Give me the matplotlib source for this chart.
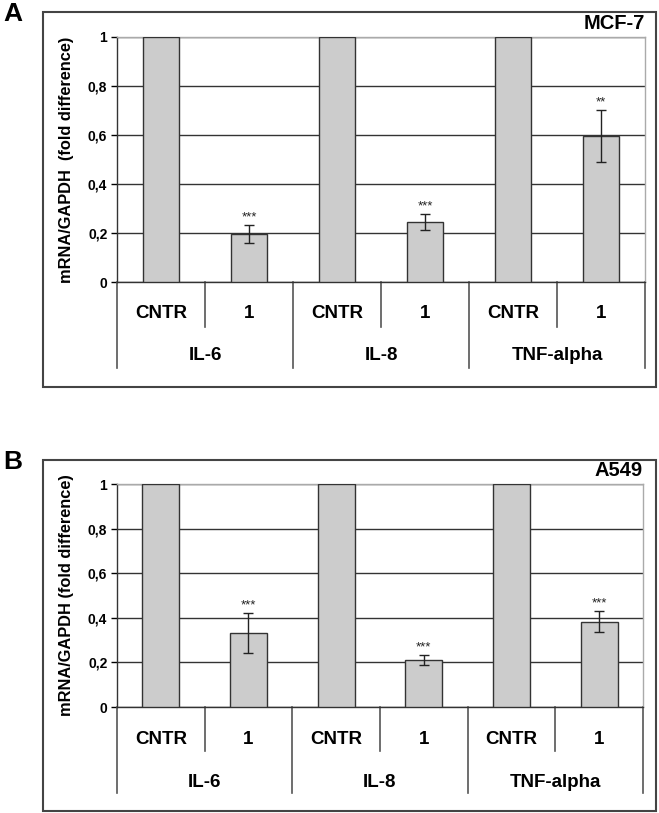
import matplotlib
matplotlib.use('Agg')
import matplotlib.pyplot as plt
import matplotlib.transforms as mtransforms
from matplotlib.patches import Rectangle

plt.rcParams['font.family'] = ['Liberation Sans', 'DejaVu Sans']
plt.rcParams['font.weight'] = 'bold'

W, H = 659, 813

# Data
groups = ['IL-6', 'IL-8', 'TNF-alpha']
conditions = ['CNTR', '1']
yticks = [0, 0.2, 0.4, 0.6, 0.8, 1]
ytick_labels = ['0', '0,2', '0,4', '0,6', '0,8', '1']

mcf7_cntr = [1.0, 1.0, 1.0]
mcf7_treat = [0.195, 0.245, 0.597]
mcf7_err = [0.037, 0.034, 0.107]
mcf7_stars = ['***', '***', '**']

a549_cntr = [1.0, 1.0, 1.0]
a549_treat = [0.333, 0.21, 0.383]
a549_err = [0.09, 0.022, 0.048]
a549_stars = ['***', '***', '***']

bar_fill = '#cccccc'
bar_edge = '#333333'


def px_rect(left, top, right, bottom):
    # pixel box -> figure fraction [l, b, w, h]
    return [left / W, 1 - bottom / H, (right - left) / W, (bottom - top) / H]


def draw_panel(fig, ax_box, frame_box, cntr, treat, err, stars,
               cell_label, ylabel, letter, sub_y, grp_y, short_end, long_end):
    l, t, r, b = frame_box
    fig.patches.append(Rectangle((l / W, 1 - b / H), (r - l) / W, (b - t) / H,
                                 transform=fig.transFigure, fill=False,
                                 edgecolor='#444444', lw=1.5))
    fig.text(3 / W, 1 - (t - 10) / H, letter, fontsize=19, fontweight='bold',
             va='top', ha='left')

    ax = fig.add_axes(px_rect(*ax_box))
    al, at, ar, ab = ax_box
    ah = ab - at

    xs, vals = [], []
    for i in range(len(groups)):
        xs += [2 * i, 2 * i + 1]
        vals += [cntr[i], treat[i]]
    ax.bar(xs, vals, width=0.42, color=bar_fill, edgecolor=bar_edge,
           linewidth=1.0, zorder=3)
    for i in range(len(groups)):
        x = 2 * i + 1
        ax.errorbar(x, treat[i], yerr=err[i], fmt='none', ecolor='#222222',
                    elinewidth=1.0, capsize=3.3, capthick=1.0, zorder=4)
        ax.annotate(stars[i], (x, treat[i] + err[i]), xytext=(0, 1),
                    textcoords='offset points', ha='center', va='bottom',
                    fontsize=9.5, fontweight='normal', color='#222222')

    ax.set_xlim(-0.5, 5.5)
    ax.set_ylim(0, 1)
    ax.set_yticks(yticks)
    ax.set_yticklabels(ytick_labels, fontsize=10, fontweight='bold')
    ax.set_xticks([])
    ax.tick_params(axis='y', direction='out', length=4, width=1.0, pad=3)
    ax.yaxis.grid(True, color='#333333', lw=1.0)
    ax.set_axisbelow(True)
    for side in ['top', 'right']:
        ax.spines[side].set_color('#aaaaaa')
        ax.spines[side].set_linewidth(1.0)
    for side in ['left', 'bottom']:
        ax.spines[side].set_color('#333333')
        ax.spines[side].set_linewidth(1.0)

    trans = mtransforms.blended_transform_factory(ax.transData, ax.transAxes)
    fy = lambda py: (ab - py) / ah
    for i, g in enumerate(groups):
        for j, c in enumerate(conditions):
            ax.text(2 * i + j, fy(sub_y), c, transform=trans, ha='center',
                    va='center', fontsize=13.5, fontweight='bold')
        ax.text(2 * i + 0.5, fy(grp_y), g, transform=trans, ha='center',
                va='center', fontsize=13.5, fontweight='bold')
    for k in range(7):
        xb = k - 0.5
        end = long_end if k % 2 == 0 else short_end
        ax.plot([xb, xb], [0, fy(end)], transform=trans, color='#555555',
                lw=1.2, clip_on=False)

    ax.text(1.0, 1 + 4 / ah, cell_label, transform=ax.transAxes, ha='right',
            va='bottom', fontsize=14.5, fontweight='bold')
    fig.text(66 / W, 1 - (at + ab) / 2 / H, ylabel, rotation=90,
             ha='center', va='center', fontsize=11.8, fontweight='bold')
    return ax


fig = plt.figure(figsize=(W / 100, H / 100), dpi=100)

draw_panel(fig, (117, 37, 645, 282), (43, 12, 656, 387),
           mcf7_cntr, mcf7_treat, mcf7_err, mcf7_stars,
           'MCF-7', 'mRNA/GAPDH  (fold difference)', 'A',
           313, 356, 327, 368)

draw_panel(fig, (117, 484, 643, 707), (43, 460, 656, 811),
           a549_cntr, a549_treat, a549_err, a549_stars,
           'A549', 'mRNA/GAPDH (fold difference)', 'B',
           739, 782, 751, 793)

fig.savefig('out.png', dpi=100)
